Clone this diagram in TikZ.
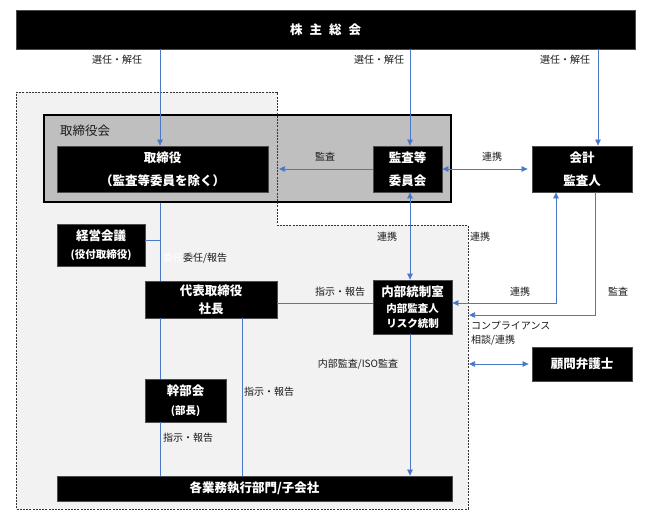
\documentclass[tikz,border=0pt]{standalone}
\usepackage{fontspec}
\setmainfont{Noto Sans CJK JP}
\usetikzlibrary{arrows.meta}
\definecolor{ln}{HTML}{4A78C8}
\definecolor{bg}{HTML}{F2F2F2}
\definecolor{bodfill}{HTML}{BFBFBF}
\definecolor{txt}{HTML}{1A1A1A}
\tikzset{
  tri/.tip={Triangle[length=6pt,width=5.5pt]},
  blk/.style={fill=black, draw=black!70, line width=0.8pt, text=white, align=center, inner sep=0pt,
    font=\bfseries\fontsize{12.5}{15}\selectfont},
  lbl/.style={font=\fontsize{10}{11}\selectfont, text=txt, inner sep=0pt},
  lk/.style={draw=ln, line width=0.7pt},
  arr/.style={lk, -tri},
  barr/.style={lk, tri-tri},
  dsh/.style={draw=black!80, line width=0.8pt, dash pattern=on 2pt off 1.2pt}
}
\begin{document}
\begin{tikzpicture}[x=1pt,y=-1pt]
\useasboundingbox (0,0) rectangle (647,521);

% x / y reference coordinates
\coordinate (c160) at (160,0);
\coordinate (c242) at (242,0);
\coordinate (c410) at (410,0);
\coordinate (c556) at (556,0);
\coordinate (c595) at (595,0);
\coordinate (c598) at (598,0);
\coordinate (y240) at (0,240);
\coordinate (y303) at (0,303);
\coordinate (y315) at (0,315);

% light background region
\fill[bg] (16,92) -- (277,92) -- (277,225) -- (468,225) -- (468,509) -- (16,509) -- cycle;

% board of directors
\node[fill=bodfill, draw=black, line width=2.8pt, minimum width=407pt, minimum height=87pt] (bod) at (247.5,158.5) {};
\node[font=\fontsize{12.5}{15}\selectfont, text=txt, anchor=west, inner sep=0pt] (bodl) at (60,131) {取締役会};

% dashed outline on top
\draw[dsh] (16,92) -- (277,92) -- (277,225) -- (468,225) -- (468,509) -- (16,509) -- cycle;

% nodes
\node[blk, minimum width=619pt, minimum height=39pt] (top) at (325.5,29.5) {株\hspace{7pt}主\hspace{7pt}総\hspace{7pt}会};
\node[blk, minimum width=211pt, minimum height=46pt, font=\bfseries\fontsize{12.5}{23}\selectfont] (dirs) at (162.5,169) {取締役\\（監査等委員を除く）};
\node[blk, minimum width=69pt, minimum height=46pt, font=\bfseries\fontsize{12.5}{23}\selectfont] (acb) at (407.5,169) {監査等\\委員会};
\node[blk, minimum width=100pt, minimum height=46pt, font=\bfseries\fontsize{12.5}{23}\selectfont] (ext) at (582,169) {会計\\監査人};
\node[blk, minimum width=88pt, minimum height=42pt] (keiei) at (101,245) {経営会議\\[3pt]{\fontsize{10.5}{12}\selectfont (役付取締役)}};
\node[blk, minimum width=132pt, minimum height=37pt, font=\bfseries\fontsize{12.5}{18}\selectfont] (ceo) at (211,299.5) {代表取締役\\社長};
\node[blk, minimum width=79pt, minimum height=54pt] (naibu) at (412.5,307) {{\fontsize{12.5}{14}\selectfont 内部統制室}\\[1pt]{\fontsize{10.5}{14}\selectfont 内部監査人}\\{\fontsize{10.5}{14}\selectfont リスク統制}};
\node[blk, minimum width=100pt, minimum height=34pt] (lawyer) at (582,364) {顧問弁護士};
\node[blk, minimum width=81pt, minimum height=43pt] (kanbu) at (185.5,400.5) {幹部会\\[4pt]{\fontsize{10.5}{12}\selectfont (部長)}};
\node[blk, minimum width=395pt, minimum height=25pt] (ops) at (254.5,488.5) {各業務執行部門/子会社};

% free ends
\coordinate (audtip) at (279,169);
\coordinate (legal) at (469,364);
\coordinate (audend) at (469,315);

% connectors from shareholders
\draw[arr] (top.south -| c160) -- (dirs.north -| c160);
\draw[arr] (top.south -| c410) -- (acb.north -| c410);
\draw[arr] (top.south -| c598) -- (ext.north -| c598);
\node[lbl] (l1) at (117,60) {選任・解任};
\node[lbl] (l2) at (379,60) {選任・解任};
\node[lbl] (l3) at (565,60) {選任・解任};

% audit committee
\draw[arr] (acb.west) -- (audtip);
\node[lbl] (l4) at (325,157) {監査};
\draw[barr, shorten >=4pt] (acb.east) -- (ext.west);
\node[lbl] (l5) at (492,157) {連携};
\draw[barr] (acb.south -| c410) -- (naibu.north -| c410);
\node[lbl] (l6) at (387,237) {連携};
\node[lbl] (l7) at (480,237) {連携};

% external auditor
\draw[barr] (naibu.east |- y303) -- (c556 |- y303) -- (ext.south -| c556);
\node[lbl] (l8) at (520,292) {連携};
\draw[arr] (ext.south -| c595) -- (c595 |- y315) -- (audend);
\node[lbl] (l9) at (618,292) {監査};
\node[lbl, anchor=west] (l10) at (471,326) {コンプライアンス};
\node[lbl, anchor=west] (l11) at (471,340) {相談/連携};
\draw[barr, shorten >=3pt] (legal) -- (lawyer.west);

% executive line
\draw[lk] (bod.south -| c160) -- (ceo.north -| c160);
\draw[lk] (keiei.east |- y240) -- (c160 |- y240);
\node[lbl, anchor=west, text=white] (l12w) at (163,258) {委任};
\node[lbl, anchor=west] (l12) at (183,258) {委任/報告};
\draw[lk] (ceo.east |- y303) -- (naibu.west |- y303);
\node[lbl] (l13) at (340,292) {指示・報告};
\draw[lk] (ceo.south -| c160) -- (kanbu.north -| c160);
\draw[lk] (kanbu.south -| c160) -- (ops.north -| c160);
\node[lbl, anchor=west] (l14) at (163,438) {指示・報告};
\draw[lk] (ceo.south -| c242) -- (ops.north -| c242);
\node[lbl, anchor=west] (l15) at (244,392) {指示・報告};
\draw[arr] (naibu.south -| c410) -- (ops.north -| c410);
\node[lbl] (l16) at (358,364) {内部監査/ISO監査};
\end{tikzpicture}
\end{document}
